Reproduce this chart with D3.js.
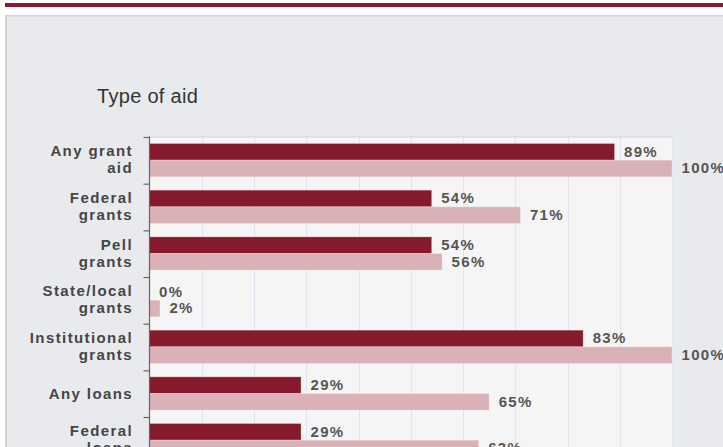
<!DOCTYPE html>
<html>
<head>
<meta charset="utf-8">
<script src="https://cdn.jsdelivr.net/npm/d3@7"></script>
<style>
  html, body { margin: 0; padding: 0; background: #ffffff; overflow: hidden; }
  svg { display: block; }
  text { font-family: "Liberation Sans", Arial, sans-serif; }
</style>
</head>
<body>
<svg id="chart" width="723" height="447"></svg>
<script>
// ---- data ----
const chartTitle = "Type of aid";
const categories = ["Any grant aid", "Federal grants", "Pell grants", "State/local grants", "Institutional grants", "Any loans", "Federal loans"];
const categoryLines = [["Any grant", "aid"], ["Federal", "grants"], ["Pell", "grants"], ["State/local", "grants"], ["Institutional", "grants"], ["Any loans"], ["Federal", "loans"]];
const seriesNames = ["Series A", "Series B"];
const seriesA = [89, 54, 54, 0, 83, 29, 29];
const seriesB = [100, 71, 56, 2, 100, 65, 63];
const xTicks = [0, 10, 20, 30, 40, 50, 60, 70, 80, 90, 100];

const colors = ["#851a2c", "#d9b1b7"];

const svg = d3.select("#chart");

// page decoration
svg.append("rect").attr("x", 5).attr("y", 3).attr("width", 718).attr("height", 4).attr("fill", "#891a2e");
svg.append("rect").attr("x", 5).attr("y", 15).attr("width", 720).attr("height", 440).attr("fill", "#e9eaee");
svg.append("rect").attr("x", 5).attr("y", 15).attr("width", 720).attr("height", 1.5).attr("fill", "#d3d3d3");
svg.append("rect").attr("x", 5).attr("y", 15).attr("width", 2).attr("height", 440).attr("fill", "#d3d3d3");

// title
svg.append("text").attr("x", 97).attr("y", 102.5)
  .attr("font-size", 20).attr("letter-spacing", 0.3).attr("fill", "#333")
  .text(chartTitle);

const plotLeft = 149.5, plotRight = 672, plotTop = 137.5, band = 46.67;
const x = d3.scaleLinear().domain([0, 100]).range([plotLeft, plotRight]);
const y = d3.scaleBand().domain(categories).range([plotTop, plotTop + band * categories.length]).padding(0);
const ySub = d3.scaleBand().domain([0, 1]).range([6, 39.3]).padding(0);

const rows = categories.map((c, i) => ({ cat: c, lines: categoryLines[i], vals: [seriesA[i], seriesB[i]] }));

// plot background
svg.append("rect").attr("x", plotLeft).attr("y", plotTop)
  .attr("width", plotRight - plotLeft).attr("height", 447 - plotTop).attr("fill", "#f5f5f5");

// grid
svg.append("g").selectAll("line").data(xTicks.slice(1)).join("line")
  .attr("x1", d => Math.round(x(d)) + 0.5).attr("x2", d => Math.round(x(d)) + 0.5)
  .attr("y1", plotTop).attr("y2", 447)
  .attr("stroke", "#dfe5f0").attr("stroke-width", 1);

// plot top border
svg.append("line").attr("x1", plotLeft).attr("x2", plotRight).attr("y1", plotTop - 0.5).attr("y2", plotTop - 0.5)
  .attr("stroke", "#d6d6d6").attr("stroke-width", 1);

// bars
const g = svg.append("g");
const rowG = g.selectAll("g.row").data(rows).join("g").attr("class", "row")
  .attr("transform", d => `translate(0,${y(d.cat)})`);

rowG.selectAll("rect").data(d => d.vals.map((v, k) => ({ v, k }))).join("rect")
  .attr("x", x(0))
  .attr("y", d => ySub(d.k))
  .attr("width", d => Math.max(0, x(d.v) - x(0)))
  .attr("height", ySub.bandwidth())
  .attr("fill", d => colors[d.k])
  .attr("stroke", "rgba(255,255,255,0.25)")
  .attr("stroke-width", 1);

rowG.selectAll("text.val").data(d => d.vals.map((v, k) => ({ v, k }))).join("text")
  .attr("class", "val")
  .attr("x", d => x(d.v) + 9.5)
  .attr("y", d => ySub(d.k) + ySub.bandwidth() / 2 + 5)
  .attr("font-size", 15).attr("font-weight", "bold").attr("letter-spacing", 1.3)
  .attr("fill", "#555")
  .text(d => d.v + "%");

// axis
svg.append("line").attr("x1", plotLeft).attr("x2", plotLeft).attr("y1", plotTop - 1).attr("y2", 447)
  .attr("stroke", "#666").attr("stroke-width", 1.2);
svg.append("g").selectAll("line").data(categories).join("line")
  .attr("x1", plotLeft - 6).attr("x2", plotLeft)
  .attr("y1", d => y(d)).attr("y2", d => y(d))
  .attr("stroke", "#666").attr("stroke-width", 1.2);

// category labels
const labG = svg.append("g").selectAll("text").data(rows).join("text")
  .attr("text-anchor", "end")
  .attr("font-size", 15).attr("font-weight", "bold").attr("letter-spacing", 1.4)
  .attr("fill", "#454545");
labG.selectAll("tspan").data(d => d.lines.map((t, j) => ({ t, j, n: d.lines.length, c: y(d.cat) + band / 2 }))).join("tspan")
  .attr("x", 133)
  .attr("y", d => d.n === 1 ? d.c + 4.5 : d.c - 4.5 + d.j * 17)
  .text(d => d.t);
</script>
</body>
</html>
